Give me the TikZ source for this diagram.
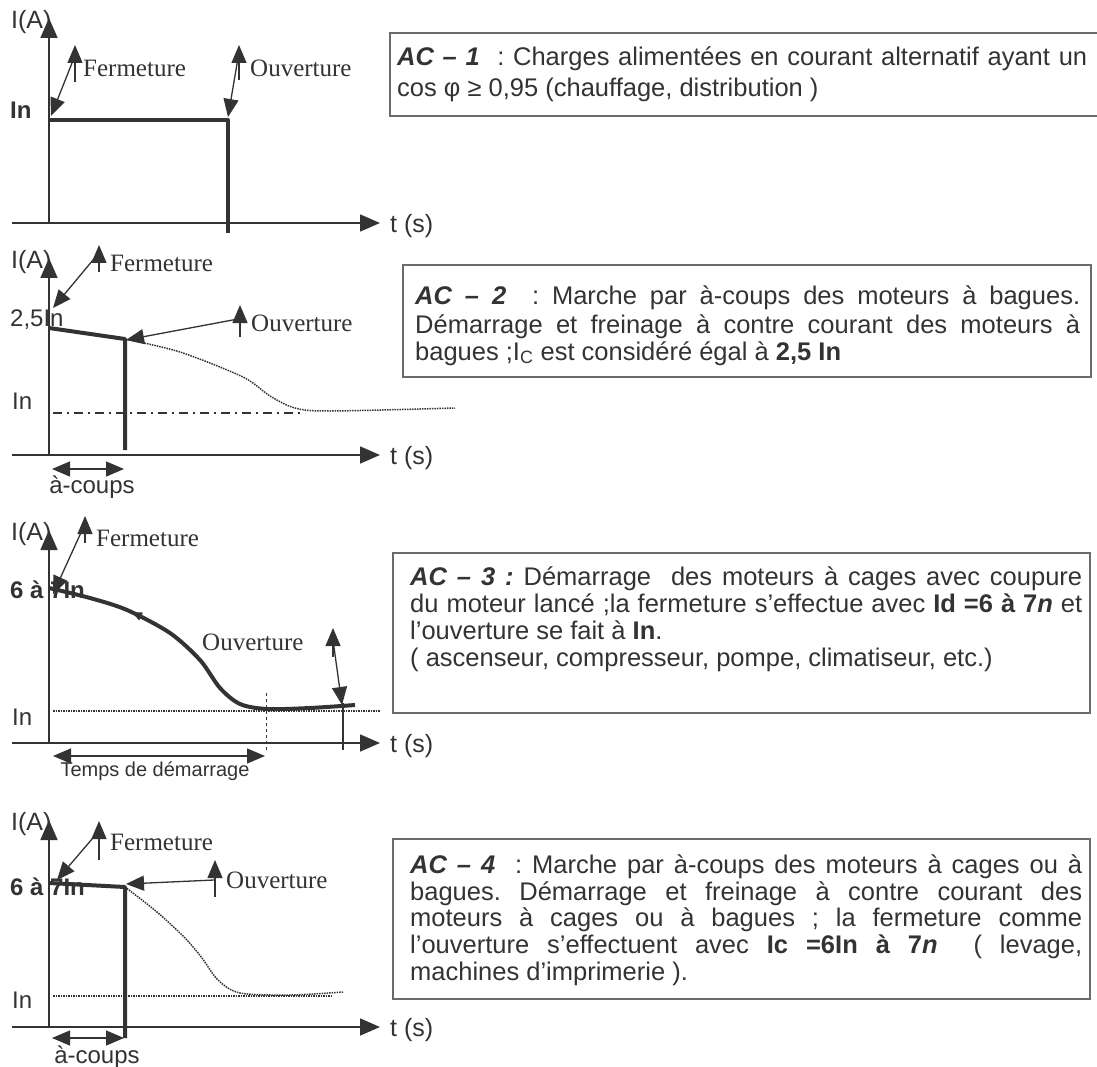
\documentclass[tikz,border=0pt]{standalone}
\usepackage{fontspec}
\setmainfont{Liberation Serif}
\setsansfont{Liberation Sans}
\usetikzlibrary{arrows.meta,decorations.markings}
\definecolor{ink}{gray}{0.2}
\definecolor{frame}{gray}{0.42}
\frenchspacing

\begin{document}
\begin{tikzpicture}[x=1pt,y=-1pt,
  >={Triangle[length=18pt,width=15pt]},
  every node/.style={text=ink,inner sep=0pt},
  axe/.style={draw=ink,line width=1.6pt,-{Triangle[length=20pt,width=17pt]}},
  courant/.style={draw=ink,line width=4pt,line join=round},
  fleche/.style={draw=ink,line width=1.3pt},
  trace/.style={draw=ink,line width=1.5pt,densely dotted},
  cadre/.style={draw=frame,line width=1.3pt},
  nom/.style={font=\rmfamily\fontsize{25}{28}\selectfont},
  val/.style={font=\sffamily\fontsize{24}{27}\selectfont},
  gras/.style={font=\sffamily\bfseries\fontsize{24}{27}\selectfont},
  txt/.style={font=\sffamily\fontsize{25.5}{27}\selectfont,anchor=base west}]
\useasboundingbox (0,0) rectangle (1097,1067);
\fill[white] (0,0) rectangle (1097,1067);

% axes of the four panels
\foreach \p/\top/\bot in {a/18/223,b/258/455,c/530/743,d/820/1027}{
  \coordinate (\p o) at (49,\bot);
  \coordinate (\p y) at (49,\top);
  \coordinate (\p l) at (12,\bot);
  \coordinate (\p x) at (380,\bot);
  \node[val,font=\sffamily\fontsize{25}{27}\selectfont,anchor=west] (\p ia) at (11,{\top+4}) {I(A)};
  \node[val,font=\sffamily\fontsize{25}{27}\selectfont,anchor=west] (\p ts) at (390,{\bot+3}) {t (s)};
  \draw[axe] (\p l) -- (\p x);
  \draw[axe] (\p o) -- (\p y);
}

% AC-1
\node[gras,anchor=west] (ain) at (10,110) {In};
\coordinate (a1) at (49,120);
\coordinate (a2) at (228,120);
\coordinate (a3) at (228,233);
\draw[courant] (a1) -- (a2) -- (a3);
\coordinate (aft) at (75,45);
\coordinate (afs) at (75,82);
\coordinate (afm) at (74,58);
\coordinate (afe) at (51,116);
\draw[fleche,->] (afs) -- (aft);
\draw[fleche,->] (afm) -- (afe);
\node[nom,anchor=west] (afn) at (83,68) {Fermeture};
\coordinate (aot) at (239,45);
\coordinate (aos) at (239,80);
\coordinate (aom) at (238,58);
\coordinate (aoe) at (228,117);
\draw[fleche,->] (aos) -- (aot);
\draw[fleche,->] (aom) -- (aoe);
\node[nom,anchor=west] (aon) at (250,68) {Ouverture};

% AC-2
\node[val,anchor=west] (bpk) at (10,320) {2,5In};
\node[val,anchor=west] (bin) at (12,401) {In};
\coordinate (b1) at (49,328);
\coordinate (b2) at (125,339);
\coordinate (b3) at (125,450);
\draw[trace] plot[smooth] coordinates {(125,339) (180,352) (243,377) (270,396) (295,408) (330,411) (455,408)};
\draw[ink,line width=1.4pt,dash pattern=on 9pt off 5pt on 2pt off 5pt] (53,413) coordinate (bs1) -- (305,413) coordinate (bs2);
\draw[courant] (b1) -- (b2) -- (b3);
\coordinate (bft) at (99,245);
\coordinate (bfs) at (99,272);
\coordinate (bfm) at (98,254);
\coordinate (bfe) at (53,308);
\draw[fleche,->] (bfs) -- (bft);
\draw[fleche,->] (bfm) -- (bfe);
\node[nom,anchor=west] (bfn) at (110,263) {Fermeture};
\coordinate (bot) at (240,305);
\coordinate (bos) at (240,337);
\coordinate (bom) at (238,319);
\coordinate (boe) at (126,340);
\draw[fleche,->] (bos) -- (bot);
\draw[fleche,->] (bom) -- (boe);
\node[nom,anchor=west] (bon) at (251,323) {Ouverture};
\coordinate (bc1) at (52,469);
\coordinate (bc2) at (124,469);
\draw[fleche,<->] (bc1) -- (bc2);
\node[val] (bcn) at (92,487) {à-coups};

% AC-3
\node[gras,anchor=west] (cpk) at (10,590) {6 à 7In};
\node[val,anchor=west] (cin) at (12,717) {In};
\draw[trace] (53,711) coordinate (cs1) -- (380,711) coordinate (cs2);
\draw[courant,decoration={markings,mark=at position 0.25 with {\arrowreversed{Triangle[length=10pt,width=8pt]}}},postaction=decorate]
  plot[smooth] coordinates {(49,588) (90,598) (127,610) (170,633) (200,660) (220,688) (240,704) (267,709) (310,708) (355,705)};
\draw[ink,line width=1pt,dashed] (266,693) coordinate (cd1) -- (266,753) coordinate (cd2);
\draw[ink,line width=1.2pt] (343,703) coordinate (cv1) -- (343,750) coordinate (cv2);
\coordinate (cft) at (85,516);
\coordinate (cfs) at (85,543);
\coordinate (cfm) at (84,526);
\coordinate (cfe) at (53,594);
\draw[fleche,->] (cfs) -- (cft);
\draw[fleche,->] (cfm) -- (cfe);
\node[nom,anchor=west] (cfn) at (96,538) {Fermeture};
\node[nom,anchor=west] (con) at (202,642) {Ouverture};
\coordinate (cot) at (333,628);
\coordinate (cos) at (333,657);
\coordinate (com) at (333,640);
\coordinate (coe) at (342,705);
\draw[fleche,->] (cos) -- (cot);
\draw[fleche,->] (com) -- (coe);
\coordinate (cc1) at (53,756);
\coordinate (cc2) at (265,756);
\draw[fleche,<->] (cc1) -- (cc2);
\node[val,font=\sffamily\fontsize{20}{22}\selectfont] (ccn) at (155,771) {Temps de démarrage};

% AC-4
\node[gras,anchor=west] (dpk) at (10,887) {6 à 7In};
\node[val,anchor=west] (din) at (12,1000) {In};
\draw[trace] (53,996) coordinate (ds1) -- (333,996) coordinate (ds2);
\draw[trace] plot[smooth] coordinates {(125,887) (157,912) (185,938) (202,958) (218,980) (240,993) (290,995) (343,992)};
\coordinate (d1) at (49,883);
\coordinate (d2) at (125,887);
\coordinate (d3) at (125,1038);
\draw[courant] (d1) -- (d2) -- (d3);
\coordinate (dft) at (99,821);
\coordinate (dfs) at (99,860);
\coordinate (dfm) at (98,832);
\coordinate (dfe) at (57,880);
\draw[fleche,->] (dfs) -- (dft);
\draw[fleche,->] (dfm) -- (dfe);
\node[nom,anchor=west] (dfn) at (110,842) {Fermeture};
\coordinate (dot) at (215,860);
\coordinate (dos) at (215,897);
\coordinate (dom) at (214,880);
\coordinate (doe) at (126,884);
\draw[fleche,->] (dos) -- (dot);
\draw[fleche,->] (dom) -- (doe);
\node[nom,anchor=west] (don) at (226,880) {Ouverture};
\coordinate (dc1) at (52,1038);
\coordinate (dc2) at (124,1038);
\draw[fleche,<->] (dc1) -- (dc2);
\node[val] (dcn) at (97,1057) {à-coups};

% text boxes
\draw[cadre] (1097,33) -- (390,33) -- (390,116) -- (1097,116);
\node[txt] (t1a) at (397,66) {\makebox[690pt][s]{\textbf{\textit{AC – 1}} \ : Charges alimentées en courant alternatif ayant un}};
\node[txt] (t1b) at (397,97) {cos φ ≥ 0,95 (chauffage, distribution )};

\draw[cadre] (403,265) rectangle (1091,377);
\node[txt] (t2a) at (415,305) {\makebox[665pt][s]{\textbf{\textit{AC – 2}} \ : Marche par à-coups des moteurs à bagues.}};
\node[txt] (t2b) at (415,333) {\makebox[665pt][s]{Démarrage et freinage à contre courant des moteurs à}};
\node[txt] (t2c) at (415,360) {bagues ;I\textsubscript{C} est considéré égal à \textbf{2,5 In}};

\draw[cadre] (393,553) rectangle (1090,713);
\node[txt] (t3a) at (410,585) {\makebox[672pt][s]{\textbf{\textit{AC – 3 :}} Démarrage \ des moteurs à cages avec coupure}};
\node[txt] (t3b) at (410,612) {\makebox[672pt][s]{du moteur lancé ;la fermeture s’effectue avec \textbf{Id =6 à 7\textit{n}} et}};
\node[txt] (t3c) at (410,639) {l’ouverture se fait à \textbf{In}.};
\node[txt] (t3d) at (410,666) {( ascenseur, compresseur, pompe, climatiseur, etc.)};

\draw[cadre] (393,839) rectangle (1090,999);
\node[txt] (t4a) at (410,873) {\makebox[672pt][s]{\textbf{\textit{AC – 4}} \ : Marche par à-coups des moteurs à cages ou à}};
\node[txt] (t4b) at (410,900) {\makebox[672pt][s]{bagues. Démarrage et freinage à contre courant des}};
\node[txt] (t4c) at (410,926) {\makebox[672pt][s]{moteurs à cages ou à bagues ; la fermeture comme}};
\node[txt] (t4d) at (410,953) {\makebox[672pt][s]{l’ouverture s’effectuent avec \textbf{Ic =6In à 7\textit{n}} \ ( levage,}};
\node[txt] (t4e) at (410,980) {machines d’imprimerie ).};
\end{tikzpicture}
\end{document}
